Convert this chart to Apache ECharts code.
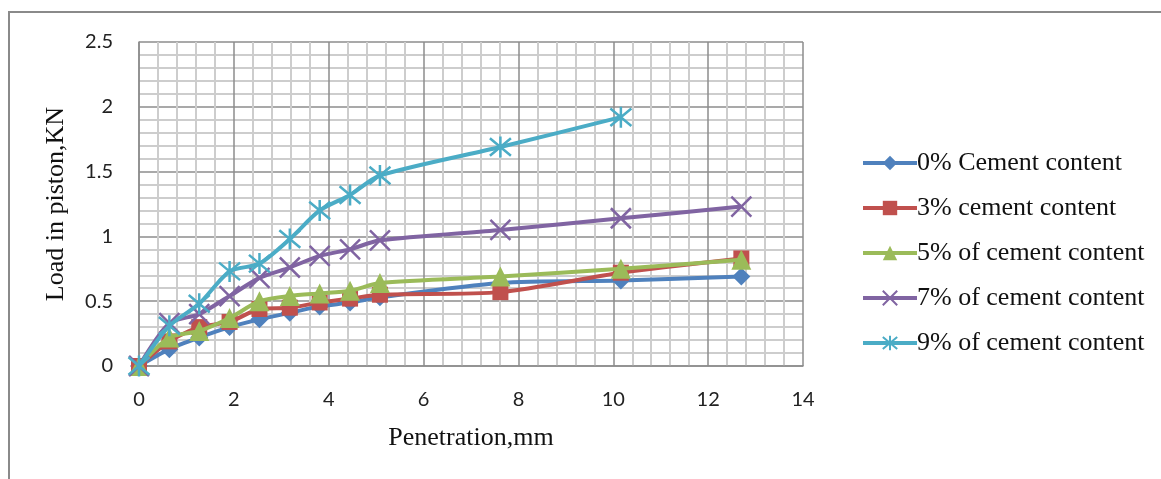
<!DOCTYPE html>
<html>
<head>
<meta charset="utf-8">
<script src="https://cdn.jsdelivr.net/npm/echarts@6/dist/echarts.min.js"></script>
<style>
html,body{margin:0;padding:0;background:#fff;}
#chart{width:1161px;height:479px;}
</style>
</head>
<body>
<div id="chart"></div>
<script>
// Data
const penetration = [0, 0.64, 1.27, 1.91, 2.54, 3.18, 3.81, 4.45, 5.08, 7.62, 10.16, 12.7];
const cement0 = [0, 0.13, 0.22, 0.30, 0.36, 0.41, 0.46, 0.49, 0.53, 0.64, 0.66, 0.69];
const cement3 = [0, 0.19, 0.30, 0.34, 0.44, 0.45, 0.49, 0.52, 0.55, 0.57, 0.72, 0.83];
const cement5 = [0, 0.22, 0.27, 0.37, 0.50, 0.54, 0.56, 0.58, 0.64, 0.69, 0.75, 0.82];
const cement7 = [0, 0.33, 0.40, 0.54, 0.68, 0.76, 0.85, 0.90, 0.97, 1.05, 1.14, 1.23];
const cement9 = [0, 0.31, 0.48, 0.73, 0.79, 0.98, 1.20, 1.32, 1.47, 1.69, 1.92];
const seriesNames = ['0% Cement content', '3% cement content', '5% of cement content', '7% of cement content', '9% of cement content'];
const xTitle = 'Penetration,mm';
const yTitle = 'Load in piston,KN';

const colors = ['#4F81BD', '#C0504D', '#9BBB59', '#8064A2', '#4BACC6'];
const symbols = ['diamond', 'rect', 'triangle',
  'path://M0,0 L10,10 M10,0 L0,10',
  'path://M0,0 L10,10 M10,0 L0,10 M5,-1 L5,11'];
const sizes = [18, 16, 20, 20, 21];
const allData = [cement0, cement3, cement5, cement7, cement9];

const pair = (ys) => ys.map((y, i) => [penetration[i], y]);

const chart = echarts.init(document.getElementById('chart'));
const labelFont = 'Lato, "Liberation Sans", sans-serif';
const serif = '"Liberation Serif", "DejaVu Serif", serif';

chart.setOption({
  animation: false,
  backgroundColor: '#fff',
  graphic: [{
    type: 'rect',
    shape: { x: 9, y: 12, width: 1160, height: 480 },
    style: { fill: 'none', stroke: '#8a8a8a', lineWidth: 2 },
    silent: true
  }],
  grid: { left: 139, right: 358, top: 42, bottom: 113 },
  legend: {
    orient: 'vertical',
    left: 856,
    top: 144,
    itemWidth: 54,
    itemHeight: 18,
    itemGap: 17,
    lineStyle: { width: 4 },
    textStyle: { fontFamily: serif, fontSize: 26, color: '#111', lineHeight: 28, padding: [0, 0, 0, -5] },
    data: seriesNames
  },
  xAxis: {
    type: 'value', min: 0, max: 14, interval: 2,
    name: xTitle, nameLocation: 'middle', nameGap: 59,
    nameTextStyle: { fontFamily: serif, fontSize: 26, color: '#111' },
    axisLine: { show: true, lineStyle: { color: '#8c8c8c', width: 1.5 } },
    axisTick: { show: false },
    axisLabel: { fontFamily: labelFont, fontSize: 20, color: '#222', margin: 24 },
    splitLine: { show: true, lineStyle: { color: '#8c8c8c', width: 1.5 } },
    minorTick: { show: false, splitNumber: 5 },
    minorSplitLine: { show: true, lineStyle: { color: '#cdcdcd', width: 2 } }
  },
  yAxis: {
    type: 'value', min: 0, max: 2.5, interval: 0.5,
    name: yTitle, nameLocation: 'middle', nameGap: 70, nameRotate: 90,
    nameTextStyle: { fontFamily: serif, fontSize: 26, color: '#111' },
    axisLine: { show: true, lineStyle: { color: '#8c8c8c', width: 1.5 } },
    axisTick: { show: false },
    axisLabel: { fontFamily: labelFont, fontSize: 20, color: '#222', margin: 26 },
    splitLine: { show: true, lineStyle: { color: '#8c8c8c', width: 1.5 } },
    minorTick: { show: false, splitNumber: 5 },
    minorSplitLine: { show: true, lineStyle: { color: '#cdcdcd', width: 2 } }
  },
  series: seriesNames.map((name, k) => ({
    name: name,
    type: 'line',
    data: pair(allData[k]),
    smooth: 0.25,
    symbol: symbols[k],
    symbolSize: sizes[k],
    showAllSymbol: true,
    lineStyle: { color: colors[k], width: 4 },
    itemStyle: k >= 3
      ? { color: colors[k], borderColor: colors[k], borderWidth: 2.5 }
      : { color: colors[k], borderWidth: 0 },
    z: 2 + k
  }))
});
</script>
</body>
</html>
